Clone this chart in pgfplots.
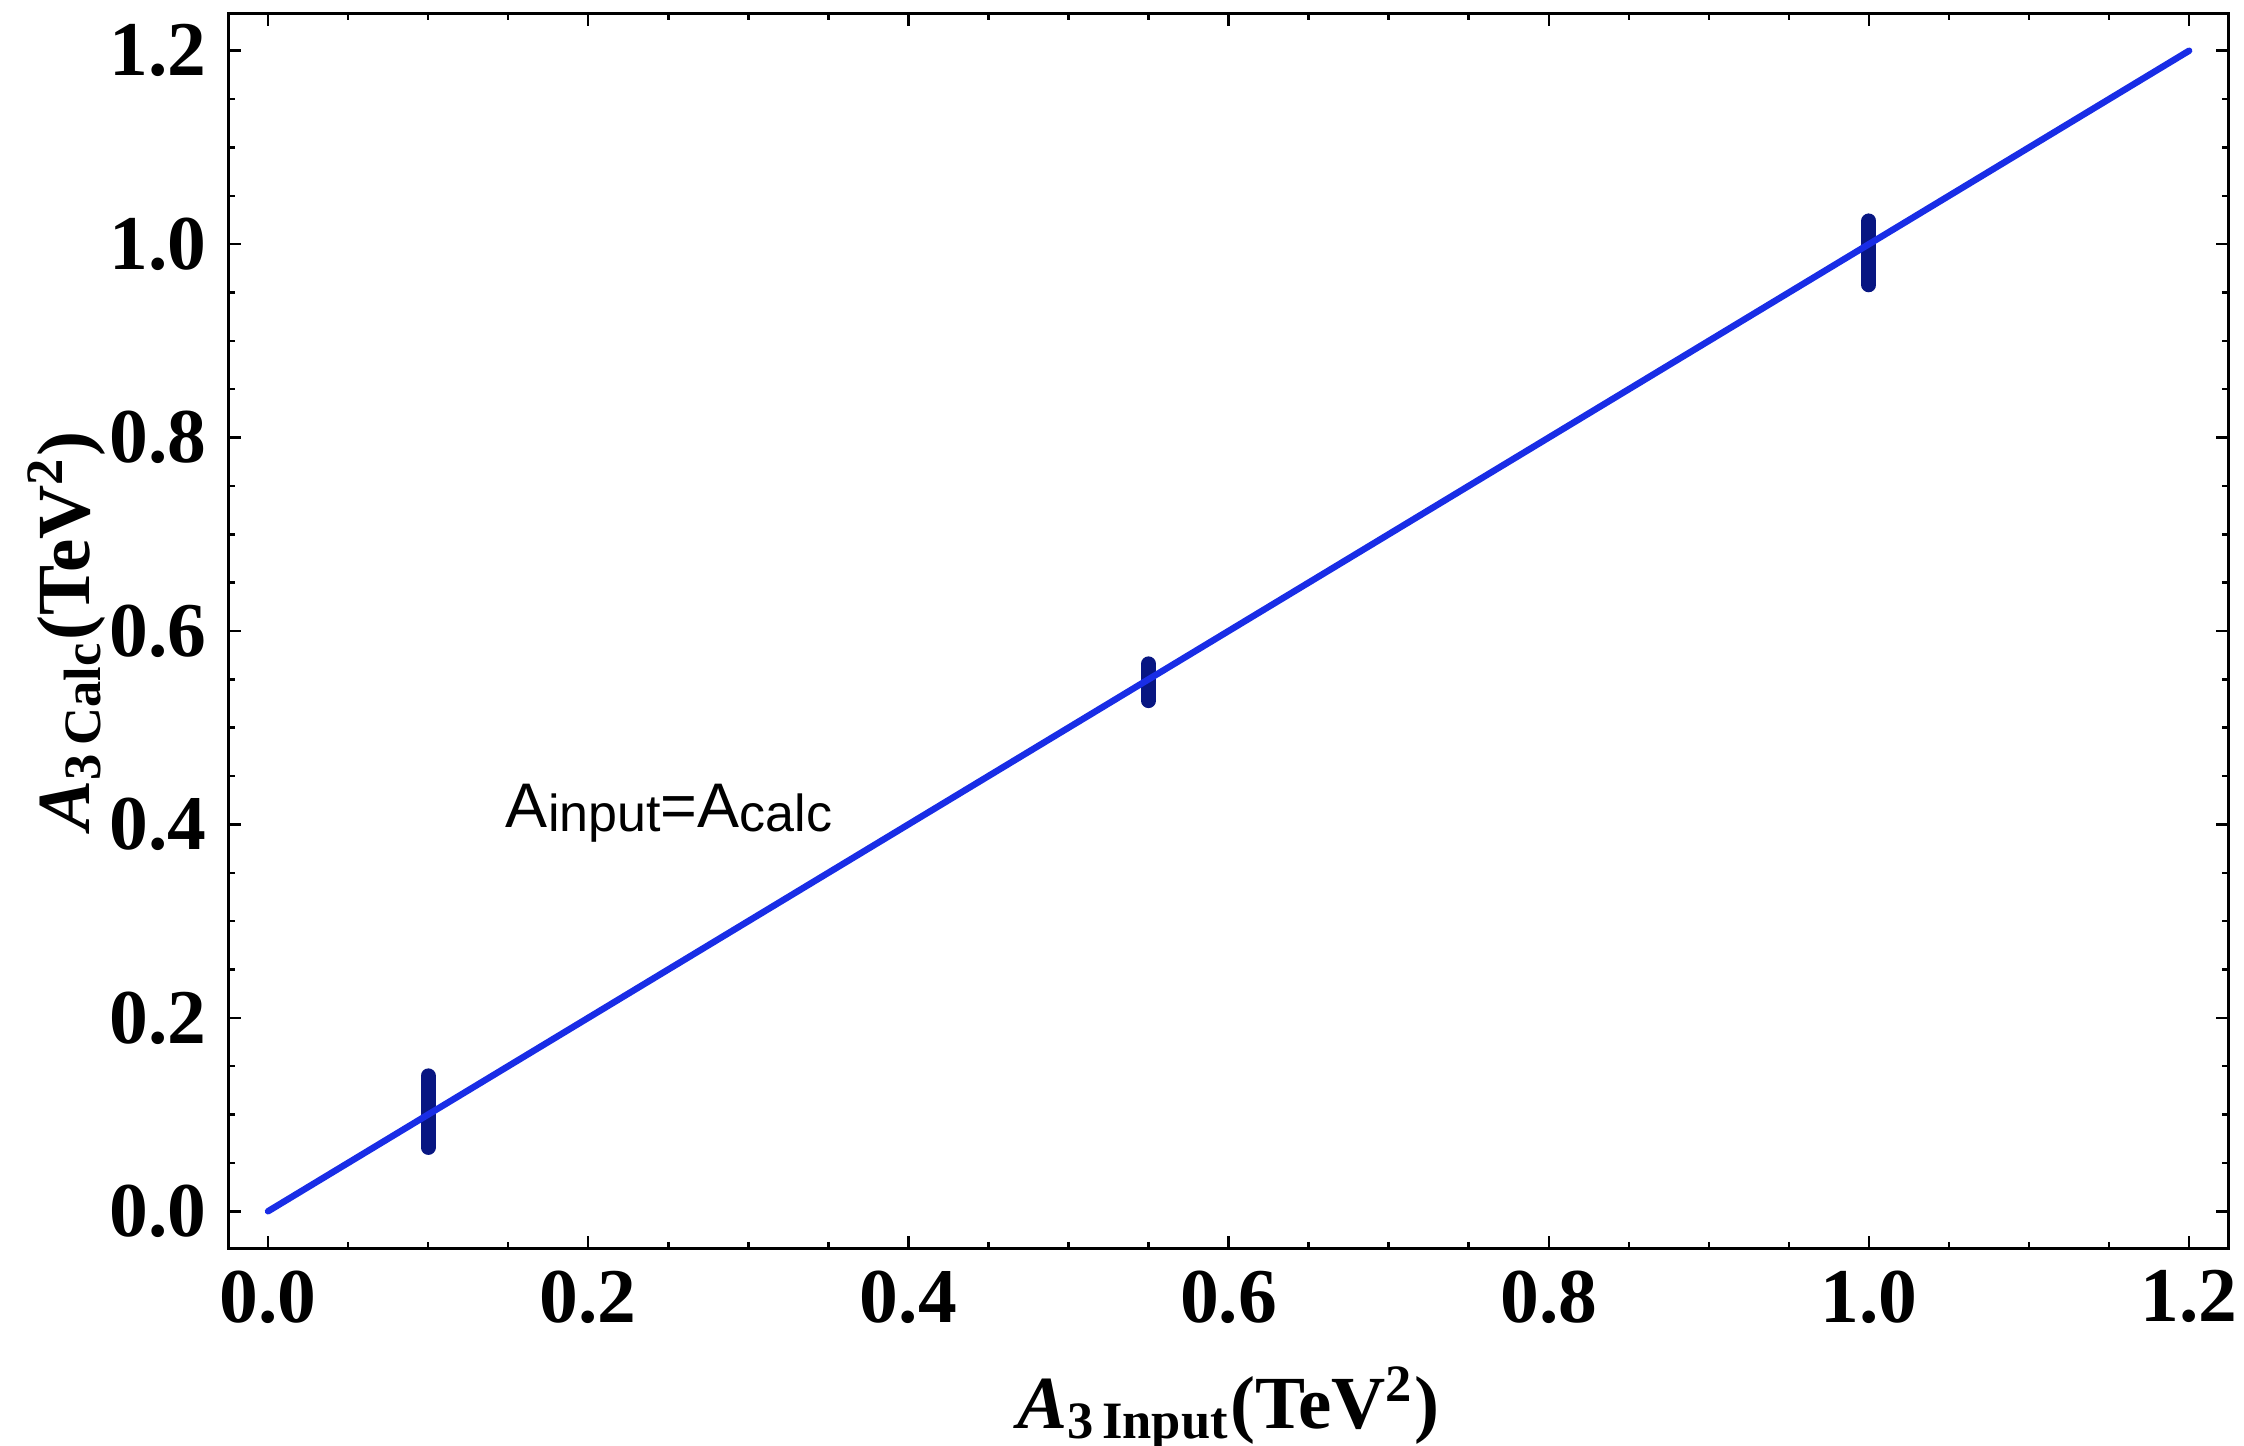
\documentclass[border=0pt]{standalone}
\usepackage{fontspec}
\setmainfont{Liberation Serif}
\newfontfamily\lucida{Liberation Sans}
\usepackage{pgfplots}
\pgfplotsset{compat=1.18}
\definecolor{lineblue}{RGB}{25,45,230}
\definecolor{barnavy}{RGB}{8,22,130}
\begin{document}
\begin{tikzpicture}
\begin{axis}[
  at={(0,0)}, anchor=south west,
  scale only axis,
  width=399.8pt, height=246.8pt,
  xmin=-0.0244, xmax=1.2243,
  ymin=-0.038, ymax=1.238,
  xtick={0,0.2,0.4,0.6,0.8,1.0,1.2},
  ytick={0,0.2,0.4,0.6,0.8,1.0,1.2},
  minor tick num=3,
  tick pos=both,
  tick align=inside,
  major tick length=2.4pt,
  minor tick length=1.2pt,
  every tick/.style={black, line width=0.5pt},
  axis line style={line width=0.6pt},
  /pgf/number format/assume math mode=true,
  /pgf/number format/.cd, fixed, fixed zerofill, precision=1, /pgfplots/.cd,
  ticklabel style={font=\fontsize{15.5}{17}\selectfont\bfseries},
  xticklabel style={yshift=-1pt},
  yticklabel style={xshift=-1pt},
  xlabel={\fontsize{15}{17}\selectfont\bfseries{\itshape A}\textsubscript{3\,Input}(TeV\textsuperscript{2})},
  ylabel={\fontsize{15}{17}\selectfont\bfseries{\itshape A}\textsubscript{3\,Calc}(TeV\textsuperscript{2})},
  xlabel style={at={(axis description cs:0.5,0)}, anchor=base, yshift=-36pt},
  ylabel style={at={(axis description cs:-0.070,0.5)}, anchor=base, rotate=0},
]
\addplot[forget plot, draw=none, mark=none,
  error bars/.cd, y dir=both, y explicit, error mark=none,
  error bar style={draw=barnavy, line width=3pt, line cap=round}]
  coordinates {
  (0.1,0.103) +- (0,0.037)
  (0.55,0.547) +- (0,0.019)
  (1.0,0.991) +- (0,0.033)
  };
\addplot[lineblue, line width=1.3pt, line cap=round] coordinates {(0,0) (1.2,1.2)};
\node[anchor=base west, inner sep=0pt, font=\lucida\fontsize{12.6}{15}\selectfont] at (axis cs:0.148,0.397)
  {A\raisebox{-0.9pt}{\fontsize{10.4}{12}\selectfont input}=A\raisebox{-0.9pt}{\fontsize{10.4}{12}\selectfont calc}};
\end{axis}
\pgfresetboundingbox
\path (-45.8pt,-39.4pt) rectangle (403pt,249.6pt);
\end{tikzpicture}
\end{document}
